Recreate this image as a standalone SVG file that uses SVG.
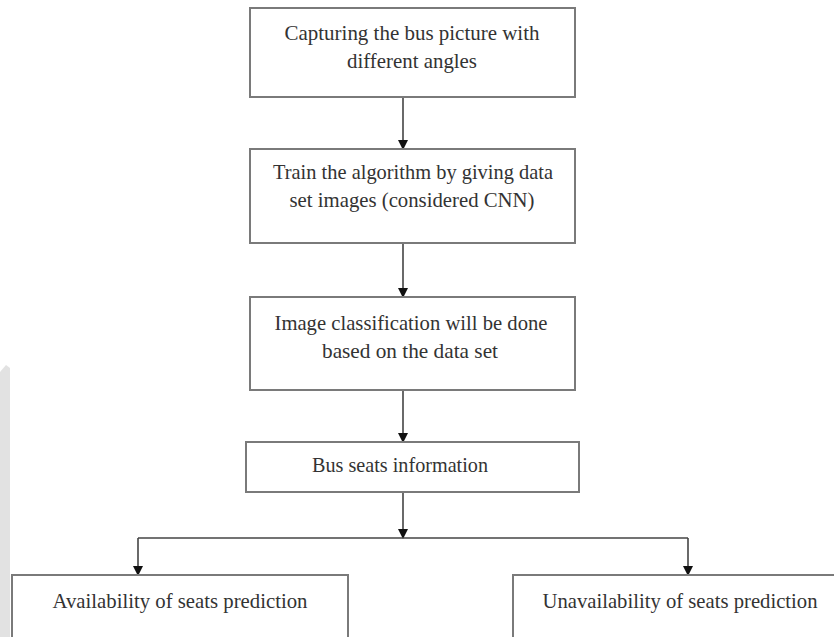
<svg xmlns="http://www.w3.org/2000/svg" width="834" height="637" viewBox="0 0 834 637">
<style>
.box{fill:#fff;stroke:#7a7a7a;stroke-width:2}
.lbl{font-family:"Liberation Serif","Times New Roman",serif;font-size:22px;fill:#333;text-anchor:middle}
.wire{fill:none;stroke:#444;stroke-width:1.6}
</style>
<defs>
<marker id="ah" markerWidth="10" markerHeight="12" refX="9" refY="5" orient="auto" markerUnits="userSpaceOnUse">
<path d="M0,0 L10,5 L0,10 Z" fill="#111"/>
</marker>
</defs>
<rect x="0" y="0" width="834" height="637" fill="#fff"/>
<path d="M0,372 L6,365 L10,368 L10,637 L0,637 Z" fill="#e2e2e2"/>
<g id="connectors">
<line class="wire" x1="403" y1="97" x2="403" y2="149" marker-end="url(#ah)"/>
<line class="wire" x1="403" y1="243" x2="403" y2="297" marker-end="url(#ah)"/>
<line class="wire" x1="403" y1="390" x2="403" y2="442" marker-end="url(#ah)"/>
<line class="wire" x1="403" y1="492" x2="403" y2="538" marker-end="url(#ah)"/>
<line class="wire" x1="138" y1="538" x2="688" y2="538"/>
<line class="wire" x1="138" y1="538" x2="138" y2="575" marker-end="url(#ah)"/>
<line class="wire" x1="688" y1="538" x2="688" y2="575" marker-end="url(#ah)"/>
</g>
<g id="n1">
<rect class="box" x="250" y="8" width="325" height="89"/>
<text class="lbl" x="412" y="40" textLength="255" lengthAdjust="spacingAndGlyphs">Capturing the bus picture with</text>
<text class="lbl" x="412" y="68" textLength="130" lengthAdjust="spacingAndGlyphs">different angles</text>
</g>
<g id="n2">
<rect class="box" x="250" y="149" width="325" height="94"/>
<text class="lbl" x="413" y="179" textLength="280" lengthAdjust="spacingAndGlyphs">Train the algorithm by giving data</text>
<text class="lbl" x="412" y="207" textLength="245" lengthAdjust="spacingAndGlyphs">set images (considered CNN)</text>
</g>
<g id="n3">
<rect class="box" x="250" y="297" width="325" height="93"/>
<text class="lbl" x="411" y="330" textLength="273" lengthAdjust="spacingAndGlyphs">Image classification will be done</text>
<text class="lbl" x="410" y="358" textLength="176" lengthAdjust="spacingAndGlyphs">based on the data set</text>
</g>
<g id="n4">
<rect class="box" x="246" y="442" width="333" height="50"/>
<text class="lbl" x="400" y="472" textLength="176" lengthAdjust="spacingAndGlyphs">Bus seats information</text>
</g>
<g id="n5">
<rect class="box" x="12" y="575" width="336" height="70"/>
<text class="lbl" x="180" y="608" textLength="255" lengthAdjust="spacingAndGlyphs">Availability of seats prediction</text>
</g>
<g id="n6">
<rect class="box" x="513" y="575" width="330" height="70"/>
<text class="lbl" x="680" y="608" textLength="275" lengthAdjust="spacingAndGlyphs">Unavailability of seats prediction</text>
</g>
</svg>
